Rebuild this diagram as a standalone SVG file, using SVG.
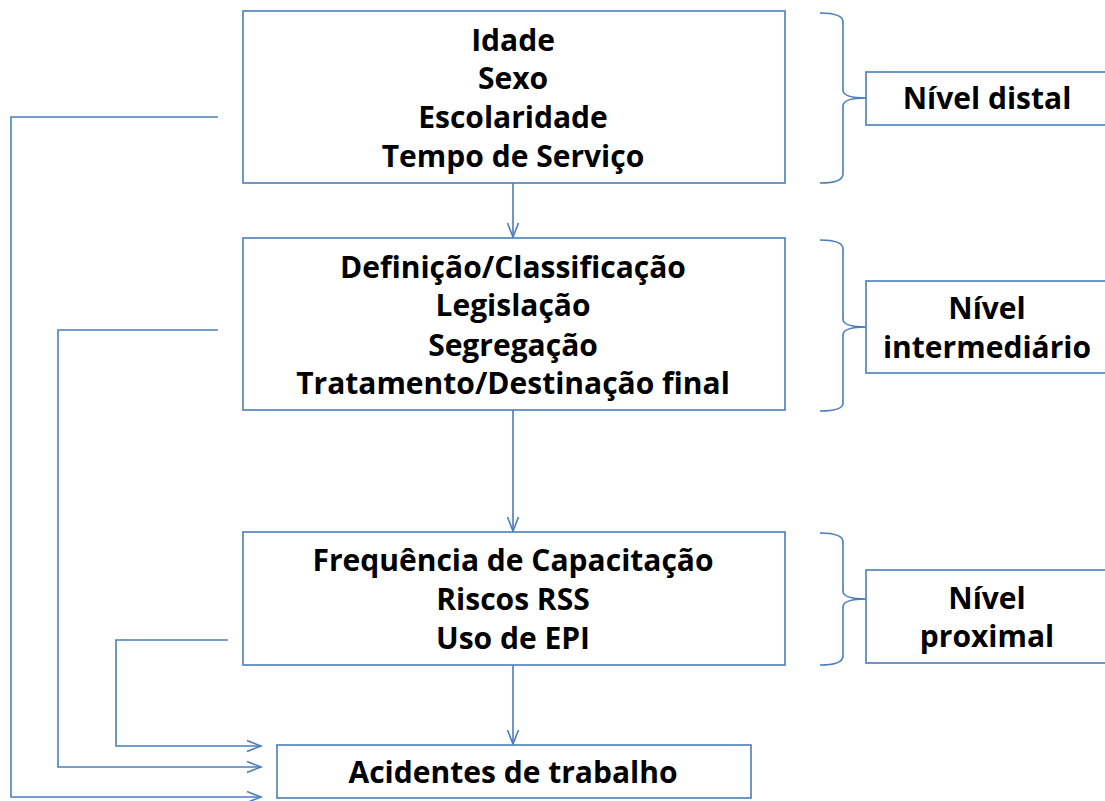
<svg xmlns="http://www.w3.org/2000/svg" width="1105" height="801" viewBox="0 0 1105 801">
<style>
.box{fill:#fff;stroke:#4a7ebb;stroke-width:1.6}
.ln{fill:none;stroke:#4a7ebb;stroke-width:1.6}
.t{font-family:"Open Sans","Liberation Sans",sans-serif;font-weight:bold;font-size:30px;fill:#000;text-anchor:middle}
</style>
<defs>
<marker id="ah" markerUnits="userSpaceOnUse" markerWidth="18" markerHeight="16" refX="15" refY="7" orient="auto">
<path d="M1,1.5 L15,7 L1,12.5" fill="none" stroke="#4a7ebb" stroke-width="1.6"/>
</marker>
</defs>
<rect width="1105" height="801" fill="#fff"/>
<g id="connectors">
<path class="ln" d="M513,183 L513,237" marker-end="url(#ah)"/>
<path class="ln" d="M513,410 L513,531" marker-end="url(#ah)"/>
<path class="ln" d="M513,665 L513,744" marker-end="url(#ah)"/>
<path class="ln" d="M218,117 L11,117 L11,797 L261,797" marker-end="url(#ah)"/>
<path class="ln" d="M218,330 L58,330 L58,767 L261,767" marker-end="url(#ah)"/>
<path class="ln" d="M228,640 L116,640 L116,746 L261,746" marker-end="url(#ah)"/>
<path class="ln" d="M820,13 Q843,13 843,22 L843,90 Q843,98 866,98 Q843,98 843,106 L843,174 Q843,183 820,183"/>
<path class="ln" d="M820,240 Q843,240 843,249 L843,319 Q843,327 866,327 Q843,327 843,335 L843,403 Q843,411 820,411"/>
<path class="ln" d="M820,533 Q843,533 843,542 L843,591 Q843,599 866,599 Q843,599 843,607 L843,656 Q843,665 820,665"/>
</g>
<g id="node-distal-factors">
<rect class="box" x="243" y="11" width="542" height="172"/>
<text class="t" x="513" y="51">Idade</text>
<text class="t" x="513" y="89">Sexo</text>
<text class="t" x="513" y="128">Escolaridade</text>
<text class="t" x="513" y="167">Tempo de Serviço</text>
</g>
<g id="node-intermediate-factors">
<rect class="box" x="243" y="238" width="542" height="172"/>
<text class="t" x="513" y="278">Definição/Classificação</text>
<text class="t" x="513" y="316">Legislação</text>
<text class="t" x="513" y="356">Segregação</text>
<text class="t" x="513" y="394">Tratamento/Destinação final</text>
</g>
<g id="node-proximal-factors">
<rect class="box" x="243" y="532" width="542" height="133"/>
<text class="t" x="513" y="571">Frequência de Capacitação</text>
<text class="t" x="513" y="610">Riscos RSS</text>
<text class="t" x="513" y="649">Uso de EPI</text>
</g>
<g id="node-accidents">
<rect class="box" x="277" y="745" width="474" height="53"/>
<text class="t" x="513" y="783">Acidentes de trabalho</text>
</g>
<g id="node-nivel-distal">
<rect class="box" x="866" y="72" width="260" height="53"/>
<text class="t" x="987" y="109">Nível distal</text>
</g>
<g id="node-nivel-intermediario">
<rect class="box" x="866" y="281" width="260" height="92"/>
<text class="t" x="987" y="319">Nível</text>
<text class="t" x="987" y="358">intermediário</text>
</g>
<g id="node-nivel-proximal">
<rect class="box" x="866" y="570" width="260" height="93"/>
<text class="t" x="987" y="609">Nível</text>
<text class="t" x="987" y="647">proximal</text>
</g>
</svg>
